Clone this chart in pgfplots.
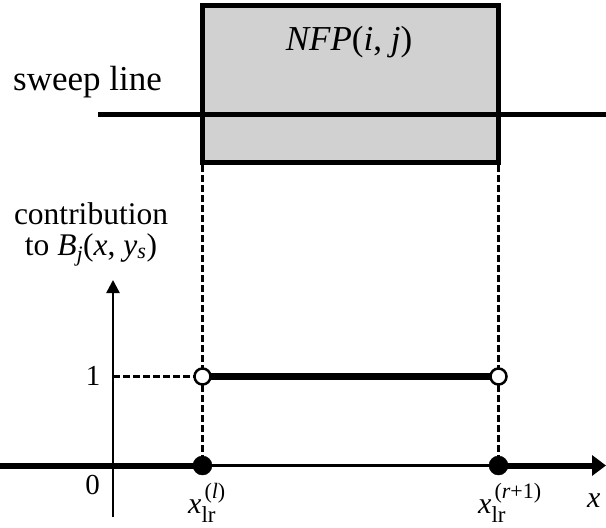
\documentclass[border=0pt]{standalone}
\usepackage{fontspec}
\setmainfont{Liberation Serif}
\usepackage{pgfplots}
\pgfplotsset{compat=1.18}
\usetikzlibrary{arrows.meta}
\newcommand\fs[1]{\fontsize{#1}{#1}\selectfont}
\newcommand\xlr[1]{\textit{x}\makebox[0pt][l]{\hspace{3pt}\raisebox{15pt}{\fs{22}(#1)}}\raisebox{-9pt}{\fs{23}lr}}
\begin{document}
\begin{tikzpicture}
\begin{axis}[width=606pt,height=528pt,scale only axis,anchor=south west,at={(0,0)},
  xmin=0,xmax=606,ymin=0,ymax=528,y dir=reverse,hide axis,clip=false]
% rectangle NFP
\addplot[draw=black,line width=5pt,fill=black!18,mark=none] coordinates {(202.5,5.5)(498.5,5.5)(498.5,162.5)(202.5,162.5)} -- cycle;
% sweep line
\addplot[black,line width=5.5pt,mark=none] coordinates {(98,114.5)(606,114.5)};
% dashed verticals
\addplot[black,line width=2.7pt,dash pattern=on 6.5pt off 3.5pt,mark=none] coordinates {(202.5,165)(202.5,465)};
\addplot[black,line width=2.7pt,dash pattern=on 6.5pt off 3.5pt,mark=none] coordinates {(498.5,165)(498.5,465)};
\addplot[black,line width=2.5pt,dash pattern=on 6.5pt off 3.5pt,mark=none] coordinates {(113,376.5)(202.5,376.5)};
% y axis
\addplot[black,line width=2.5pt,mark=none,-{Triangle[length=13pt,width=13pt]}] coordinates {(113,517)(113,280)};
% x axis
\addplot[black,line width=6pt,mark=none] coordinates {(0,465.5)(202.5,465.5)};
\addplot[black,line width=3pt,mark=none] coordinates {(202.5,465.5)(498.5,465.5)};
\addplot[black,line width=6pt,mark=none,-{Triangle[length=14pt,width=20pt]}] coordinates {(498.5,465.5)(606,465.5)};
% level 1 segment
\addplot[black,line width=7pt,mark=none] coordinates {(202.5,376)(498.5,376)};
% open circles
\addplot[only marks,mark=*,mark size=8pt,mark options={draw=black,fill=white,line width=2.5pt}] coordinates {(202.5,376.5)(498.5,376.5)};
% filled circles
\addplot[only marks,mark=*,mark size=9.5pt,mark options={draw=black,fill=black}] coordinates {(202.5,465.5)(498.5,465.5)};
% labels
\node[font=\fs{35},anchor=base,inner sep=0pt] at (axis cs:349,50) {\textit{NFP}(\textit{i}, \textit{j})};
\node[font=\fs{35},anchor=base,inner sep=0pt] at (axis cs:87.5,90) {sweep line};
\node[font=\fs{31.5},anchor=base,inner sep=0pt] at (axis cs:91,224) {contribution};
\node[font=\fs{31.5},anchor=base,inner sep=0pt] at (axis cs:91,255) {to \textit{B}\textsubscript{\textit{j}}(\textit{x}, \textit{y}\textsubscript{\textit{s}})};
\node[font=\fs{29},anchor=base,inner sep=0pt] at (axis cs:93,385) {1};
\node[font=\fs{29},anchor=base,inner sep=0pt] at (axis cs:92.5,494) {0};
\node[font=\fs{30},anchor=base west,inner sep=0pt] at (axis cs:188,513) {\xlr{\textit{l}}};
\node[font=\fs{30},anchor=base west,inner sep=0pt] at (axis cs:478,513) {\xlr{\textit{r}+1}};
\node[font=\fs{30},anchor=base west,inner sep=0pt] at (axis cs:587,507) {\textit{x}};
\end{axis}
\pgfresetboundingbox
\useasboundingbox (0,0) rectangle (606pt,528pt);
\end{tikzpicture}
\end{document}
